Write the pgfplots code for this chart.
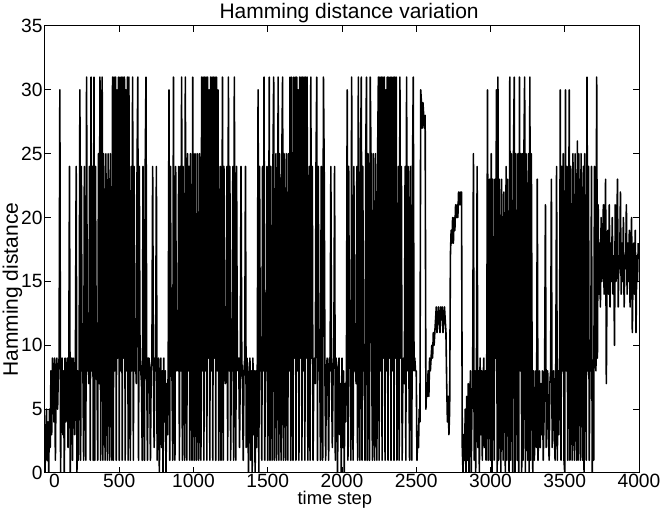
\documentclass[border=0pt]{standalone}
\usepackage{fontspec}
\setmainfont{Liberation Sans}
\usepackage{pgfplots}
\pgfplotsset{compat=1.18}
\begin{document}
\begin{tikzpicture}
\begin{axis}[
  name=ax,
  scale only axis,
  width=297pt, height=223.5pt,
  xmin=0, xmax=4000, ymin=0, ymax=35,
  xtick={0,500,...,4000},
  xticklabels={{\hspace*{9.5pt}0},500,1000,1500,2000,2500,3000,3500,4000},
  ytick={0,5,...,35},
  yticklabels={0,5,10,15,20,25,30,35},
  tick align=inside,
  major tick length=3pt,
  tick style={black, line width=0.5pt},
  axis line style={black, line width=0.5pt},
  xticklabel style={font=\fontsize{9.6}{12}\selectfont, inner sep=0pt, anchor=north, yshift=-0.5pt},
  yticklabel style={font=\fontsize{9.6}{12}\selectfont, inner sep=0pt, anchor=east, xshift=-1pt},
  title={Hamming distance variation},
  title style={at={(axis description cs:0.512,1)}, anchor=base, yshift=-2.5pt, inner sep=0pt, font=\fontsize{10.5}{12}\selectfont},
  xlabel={time step},
  xlabel style={at={(axis description cs:0.488,0)}, anchor=north, yshift=-9pt, inner sep=0pt, font=\fontsize{9.2}{11}\selectfont},
  ylabel={Hamming distance},
  ylabel style={at={(axis description cs:-0.0455,0.41)}, anchor=base, inner sep=0pt, font=\fontsize{10.5}{12}\selectfont},
]
\addplot[black, line width=0.8pt, line join=round, mark=none] coordinates {
(0,0)(5,3)(10,5)(15,1)(20,4)(25,0)(30,5)(35,2)(40,8)(45,3)
(50,9)(55,8)(60,4)(65,9)(70,1)(75,8)(80,9)(85,5)(90,8)(95,9)
(100,30)(105,0)(110,8)(115,9)(120,3)(125,8)(130,0)(135,9)(140,4)(145,8)
(150,9)(155,2)(160,8)(165,24)(170,0)(175,8)(180,9)(185,1)(190,9)(195,8)
(200,3)(205,9)(210,24)(215,0)(220,8)(225,1)(230,9)
(235,30)(240,1)(245,24)(250,8)(255,9)(260,1)(265,24)(270,7)(275,1)(280,31)
(285,8)(290,9)(295,7)(300,24)(305,1)(310,31)(315,8)(320,24)(325,1)(330,31)
(335,1)(340,24)(345,9)(350,8)(355,1)(360,25)(365,7)(370,31)(375,1)(380,25)
(385,31)(390,1)(395,25)(400,9)(405,1)(410,25)(415,8)(420,1)(425,25)(430,9)
(435,1)(440,25)(445,8)(450,1)(455,31)(460,1)(465,31)
(470,8)(475,31)(480,1)(485,30)(490,9)(495,31)(500,1)(505,31)(510,8)(515,31)
(520,1)(525,31)(530,9)(535,31)(540,1)(545,30)(550,8)(555,31)(560,1)(565,31)(570,9)
(575,1)(580,24)(585,8)(590,31)(595,1)(600,24)(605,8)(610,9)(615,7)(620,24)
(625,31)(630,1)(635,24)(640,9)(645,8)(650,7)(655,1)(660,24)(665,8)(670,1)
(675,24)(680,31)(685,8)(690,1)(695,9)
(700,9)(705,8)(710,1)(715,8)(720,9)(725,24)(730,8)(735,2)(740,9)(745,8)
(750,24)(755,1)(760,8)(765,9)(770,0)(775,7)(780,9)(785,2)(790,8)(795,0)
(800,9)(805,4)(810,8)(815,0)(820,7)(825,3)(830,9)
(835,30)(840,1)(845,24)(850,9)(855,8)(860,1)(865,31)(870,8)(875,1)(880,24)
(885,8)(890,9)(895,8)(900,24)(905,1)(910,24)(915,8)(920,31)(925,1)(930,24)
(935,8)(940,1)(945,31)(950,9)(955,1)(960,25)(965,8)(970,24)(975,1)(980,25)
(985,9)(990,1)(995,31)(1000,8)(1005,1)(1010,25)(1015,9)(1020,1)(1025,25)(1030,8)
(1035,1)(1040,25)(1045,9)(1050,1)(1055,31)(1060,8)(1065,31)
(1070,1)(1075,31)(1080,8)(1085,31)(1090,1)(1095,31)(1100,9)(1105,30)(1110,1)(1115,31)
(1120,8)(1125,31)(1130,1)(1135,31)(1140,9)(1145,31)(1150,1)(1155,31)(1160,8)(1165,30)(1170,1)
(1175,9)(1180,24)(1185,1)(1190,8)(1195,31)(1200,1)(1205,24)(1210,8)(1215,7)(1220,9)
(1225,24)(1230,1)(1235,31)(1240,8)(1245,24)(1250,1)(1255,9)(1260,8)(1265,24)(1270,1)
(1275,31)(1280,8)(1285,1)(1290,24)(1295,9)
(1300,8)(1305,9)(1310,2)(1315,8)(1320,24)(1325,9)(1330,7)(1335,1)(1340,8)(1345,9)
(1350,24)(1355,2)(1360,9)(1365,8)(1370,0)(1375,7)(1380,9)(1385,1)(1390,8)(1395,0)
(1400,9)(1405,3)(1410,8)(1415,0)(1420,8)(1425,2)(1430,9)
(1435,30)(1440,0)(1445,24)(1450,8)(1455,9)(1460,1)(1465,24)(1470,8)(1475,31)(1480,1)
(1485,9)(1490,8)(1495,24)(1500,1)(1505,8)(1510,31)(1515,1)(1520,24)(1525,9)(1530,1)
(1535,24)(1540,31)(1545,1)(1550,8)(1555,25)(1560,1)(1565,9)(1570,31)(1575,1)(1580,25)
(1585,8)(1590,1)(1595,25)(1600,31)(1605,1)(1610,25)(1615,8)(1620,1)(1625,25)(1630,9)
(1635,1)(1640,25)(1645,8)(1650,31)(1655,1)(1660,31)(1665,8)
(1670,1)(1675,31)(1680,9)(1685,31)(1690,1)(1695,31)(1700,8)(1705,30)(1710,1)(1715,31)
(1720,9)(1725,31)(1730,1)(1735,31)(1740,8)(1745,31)(1750,1)(1755,31)(1760,9)(1765,31)(1770,1)
(1775,8)(1780,24)(1785,1)(1790,31)(1795,9)(1800,24)(1805,1)(1810,8)(1815,9)(1820,7)
(1825,24)(1830,31)(1835,1)(1840,24)(1845,8)(1850,9)(1855,1)(1860,24)(1865,8)(1870,1)
(1875,31)(1880,24)(1885,8)(1890,1)(1895,8)
(1900,9)(1905,8)(1910,1)(1915,9)(1920,8)(1925,24)(1930,7)(1935,2)(1940,8)(1945,9)
(1950,24)(1955,1)(1960,9)(1965,8)(1970,0)(1975,8)(1980,9)(1985,3)(1990,7)(1995,0)
(2000,9)(2005,2)(2010,8)(2015,0)(2020,7)(2025,4)(2030,8)
(2035,30)(2040,1)(2045,24)(2050,9)(2055,8)(2060,1)(2065,31)(2070,8)(2075,1)(2080,24)
(2085,8)(2090,9)(2095,7)(2100,24)(2105,1)(2110,31)(2115,8)(2120,1)(2125,24)(2130,31)
(2135,1)(2140,24)(2145,8)(2150,9)(2155,1)(2160,25)(2165,31)(2170,1)(2175,25)(2180,8)
(2185,1)(2190,31)(2195,25)(2200,9)(2205,1)(2210,25)(2215,8)(2220,1)(2225,25)(2230,9)
(2235,1)(2240,25)(2245,31)(2250,1)(2255,31)(2260,8)(2265,31)
(2270,1)(2275,31)(2280,9)(2285,31)(2290,1)(2295,30)(2300,8)(2305,31)(2310,1)(2315,31)
(2320,9)(2325,31)(2330,1)(2335,31)(2340,8)(2345,31)(2350,1)(2355,31)(2360,9)(2365,31)(2370,1)
(2375,8)(2380,24)(2385,1)(2390,31)(2395,9)(2400,24)(2405,1)(2410,8)(2415,9)(2420,7)
(2425,24)(2430,1)(2435,31)(2440,8)(2445,24)(2450,9)(2455,1)(2460,24)(2465,8)(2470,1)
(2475,24)(2480,31)(2485,8)(2490,9)(2495,8)
(2500,8)(2505,1)(2510,3)(2515,2)(2520,5)(2525,4)
(2530,30)(2535,29)(2540,27)(2545,29)(2550,28)(2555,27)(2560,28)
(2565,5)(2570,7)(2575,6)(2580,8)(2585,6)(2590,9)(2595,8)(2600,9)(2605,10)(2610,9)(2615,11)(2620,10)(2625,11)
(2630,12)(2635,13)(2640,11)(2645,12)(2650,13)(2655,12)(2660,11)(2665,13)(2670,12)(2675,13)(2680,11)(2685,12)(2690,13)(2695,12)(2700,11)
(2705,7)(2710,4)(2715,6)(2720,3)(2725,5)
(2730,17)(2735,19)(2740,18)(2745,20)(2750,18)(2755,20)(2760,19)(2765,21)(2770,20)(2775,21)(2780,20)(2785,22)(2790,21)(2795,22)(2800,21)(2805,22)
(2810,2)(2815,0)(2820,3)(2825,1)(2830,5)(2835,0)(2840,6)(2845,1)(2850,7)(2855,0)(2860,4)
(2865,8)(2870,0)(2875,5)(2880,7)(2885,25)(2890,1)(2895,8)(2900,0)(2905,6)(2910,24)
(2915,2)(2920,8)(2925,0)(2930,9)(2935,3)(2940,8)(2945,1)(2950,7)(2955,9)(2960,2)
(2965,8)(2970,1)(2975,9)(2980,30)(2985,1)(2990,8)(2995,23)
(3000,1)(3005,25)(3010,0)(3015,23)(3020,8)(3025,1)(3030,23)(3035,9)(3040,30)(3045,0)
(3050,31)(3055,1)(3060,23)(3065,8)(3070,0)(3075,23)(3080,9)(3085,1)(3090,22)(3095,8)
(3100,0)(3105,24)(3110,1)(3115,23)(3120,8)(3125,0)
(3130,31)(3135,1)(3140,25)(3145,8)(3150,0)(3155,25)(3160,31)(3165,0)(3170,25)(3175,9)
(3180,1)(3185,25)(3190,0)(3195,31)(3200,8)(3205,25)(3210,0)(3215,25)(3220,1)(3225,25)
(3230,31)(3235,0)(3240,25)(3245,8)(3250,1)(3255,25)(3260,0)(3265,31)(3270,1)(3275,25)
(3280,9)(3285,0)
(3290,8)(3295,1)(3300,3)(3305,8)(3310,2)(3315,23)(3320,1)(3325,4)(3330,8)(3335,2)
(3340,7)(3345,3)(3350,8)(3355,1)(3360,4)(3365,9)(3370,21)(3375,2)(3380,6)(3385,8)
(3390,3)(3395,1)(3400,7)(3405,8)(3410,23)(3415,2)(3420,5)(3425,8)(3430,3)(3435,1)
(3440,9)(3445,24)(3450,1)(3455,8)(3460,3)(3465,9)
(3470,30)(3475,1)(3480,24)(3485,8)(3490,25)(3495,1)(3500,0)(3505,30)(3510,8)(3515,24)
(3520,1)(3525,9)(3530,30)(3535,1)(3540,24)(3545,8)(3550,1)(3555,25)(3560,9)(3565,1)
(3570,25)(3575,8)(3580,1)(3585,26)(3590,1)(3595,25)(3600,9)(3605,1)(3610,25)(3615,8)
(3620,1)(3625,24)(3630,0)(3635,25)(3640,8)(3645,1)(3650,31)(3655,8)(3660,24)(3665,1)
(3670,9)(3675,8)(3680,24)(3685,0)(3690,8)(3695,1)(3700,24)(3705,9)(3710,8)(3715,31)
(3720,9)(3725,21)(3730,14)(3735,18)(3740,13)(3745,20)(3750,15)(3755,17)(3760,21)(3765,14)
(3770,18)(3775,23)(3780,7)(3785,16)(3790,19)(3795,14)(3800,21)(3805,13)(3810,18)(3815,15)
(3820,20)(3825,14)(3830,17)(3835,10)(3840,21)(3845,15)(3850,18)(3855,23)(3860,13)(3865,17)
(3870,16)(3875,22)(3880,14)(3885,18)(3890,15)(3895,20)(3900,13)(3905,17)(3910,16)(3915,21)
(3920,14)(3925,18)(3930,15)(3935,19)(3940,13)(3945,17)(3950,20)(3955,11)(3960,16)(3965,18)
(3970,14)(3975,19)(3980,11)(3985,17)(3990,15)(3995,18)
};
\end{axis}
\pgfresetboundingbox
\path[use as bounding box] ([xshift=-22.5pt,yshift=-17.5pt]ax.south west) rectangle ([xshift=12pt,yshift=13pt]ax.north east);
\end{tikzpicture}
\end{document}
